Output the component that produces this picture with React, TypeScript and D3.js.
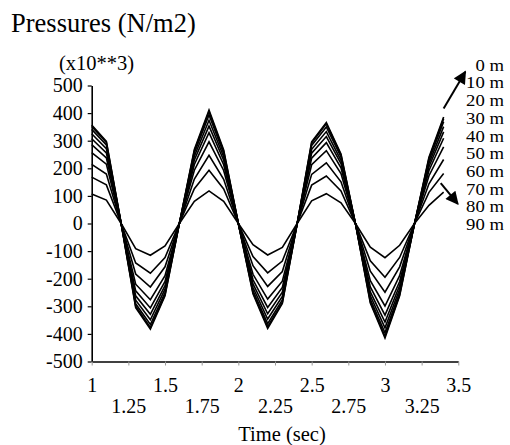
import React, { useEffect, useRef } from "react";
import * as d3 from "d3";

// time samples (sec)
const times = [1.0, 1.1, 1.2, 1.3, 1.4, 1.5, 1.6, 1.7, 1.8, 1.9, 2.0, 2.1, 2.2, 2.3, 2.4, 2.5, 2.6, 2.7, 2.8, 2.9, 3.0, 3.1, 3.2, 3.3, 3.4];

// pressures (x10**3 N/m2) per depth
const p0 = [357, 298, 2, -305, -383, -262, 6, 268, 411, 266, 0, -255, -380, -290, -4, 296, 366, 252, -4, -288, -415, -262, -4, 240, 386];
const p10 = [352, 294, 2, -300, -377, -258, 6, 264, 405, 262, 0, -251, -374, -286, -4, 292, 361, 248, -4, -284, -409, -258, -4, 236, 380];
const p20 = [341, 285, 2, -291, -366, -250, 6, 256, 393, 254, 0, -244, -363, -277, -4, 283, 350, 241, -4, -275, -396, -250, -4, 229, 369];
const p30 = [325, 271, 2, -278, -349, -238, 5, 244, 374, 242, 0, -232, -346, -264, -4, 269, 333, 229, -4, -262, -378, -238, -4, 218, 351];
const p40 = [307, 256, 2, -262, -329, -225, 5, 230, 353, 229, 0, -219, -327, -249, -3, 255, 315, 217, -3, -248, -357, -225, -3, 206, 332];
const p50 = [286, 238, 2, -244, -306, -210, 5, 214, 329, 213, 0, -204, -304, -232, -3, 237, 293, 202, -3, -230, -332, -210, -3, 192, 309];
const p60 = [257, 215, 1, -220, -276, -189, 4, 193, 296, 192, 0, -184, -274, -209, -3, 213, 264, 181, -3, -207, -299, -189, -3, 173, 278];
const p70 = [214, 179, 1, -183, -230, -157, 4, 161, 247, 160, 0, -153, -228, -174, -2, 178, 220, 151, -2, -173, -249, -157, -2, 144, 232];
const p80 = [168, 140, 1, -143, -180, -123, 3, 126, 193, 125, 0, -120, -179, -136, -2, 139, 172, 118, -2, -135, -195, -123, -2, 113, 181];
const p90 = [107, 85, 1, -91, -115, -81, 2, 80, 118, 80, 0, -77, -114, -87, -1, 82, 108, 75, -1, -86, -124, -79, -1, 66, 114];

const series = [p0, p10, p20, p30, p40, p50, p60, p70, p80, p90];
const depthLabels = ["0 m", "10 m", "20 m", "30 m", "40 m", "50 m", "60 m", "70 m", "80 m", "90 m"];

const xTicks = [1, 1.25, 1.5, 1.75, 2, 2.25, 2.5, 2.75, 3, 3.25, 3.5];
const yTicks = [-500, -400, -300, -200, -100, 0, 100, 200, 300, 400, 500];

const FONT = "'Liberation Serif', 'Times New Roman', serif";

const App = () => {
    const svgRef = useRef<SVGSVGElement>(null);

    useEffect(() => {
        const svg = d3.select(svgRef.current);
        svg.selectAll("*").remove();

        const x = d3.scaleLinear().domain([1, 3.5]).range([91.7, 458.3]);
        const y = d3.scaleLinear().domain([-500, 500]).range([361.5, 85.5]);

        // title and unit
        svg.append("text")
            .attr("x", 11).attr("y", 32)
            .style("font-family", FONT).style("font-size", "26.5px")
            .text("Pressures (N/m2)");
        svg.append("text")
            .attr("x", 59).attr("y", 70)
            .style("font-family", FONT).style("font-size", "20.5px")
            .text("(x10**3)");

        // y axis
        const yAxis = svg.append("g")
            .attr("transform", `translate(${x(1)},0)`)
            .call(d3.axisLeft(y).tickValues(yTicks).tickSize(4).tickSizeOuter(0).tickPadding(5).tickFormat(d3.format("d")));
        yAxis.select(".domain").attr("stroke", "#000").attr("stroke-width", 1.6);
        yAxis.selectAll(".tick line").attr("stroke", "#000").attr("stroke-width", 1.2);
        yAxis.selectAll(".tick text")
            .style("font-family", FONT).style("font-size", "20px").attr("fill", "#000")
            .text(d => String(d).replace("−", "-"));

        // x axis, labels alternate between two rows
        const xAxis = svg.append("g")
            .attr("transform", `translate(0,${y(-500)})`)
            .call(d3.axisBottom(x).tickValues(xTicks).tickSize(4).tickSizeOuter(0).tickFormat(d => String(d)));
        xAxis.select(".domain").attr("stroke", "#000").attr("stroke-width", 1.6);
        xAxis.selectAll(".tick line").attr("stroke", "#999").attr("stroke-width", 1);
        xAxis.selectAll(".tick text")
            .style("font-family", FONT).style("font-size", "20px").attr("fill", "#000")
            .attr("dy", null)
            .attr("y", (d, i) => (i % 2 === 0 ? 30 : 51));

        svg.append("text")
            .attr("x", 282).attr("y", 441)
            .attr("text-anchor", "middle")
            .style("font-family", FONT).style("font-size", "20.5px")
            .text("Time (sec)");

        // pressure lines
        const line = d3.line<number>()
            .x((d, i) => x(times[i]))
            .y(d => y(d));
        svg.append("g")
            .selectAll("path")
            .data(series)
            .enter()
            .append("path")
            .attr("d", d => line(d))
            .attr("fill", "none")
            .attr("stroke", "#000")
            .attr("stroke-width", 1.6)
            .attr("stroke-linejoin", "miter");

        // depth legend (tightly stacked, slightly stretched sideways like the original)
        svg.append("g")
            .selectAll("text")
            .data(depthLabels)
            .enter()
            .append("text")
            .attr("transform", (d, i) => `translate(504,${70.7 + i * 17.7}) scale(1.1,1)`)
            .attr("text-anchor", "end")
            .style("font-family", FONT).style("font-size", "17px")
            .text(d => d);

        // arrows
        svg.append("defs")
            .append("marker")
            .attr("id", "arrowHead")
            .attr("viewBox", "0 0 10 10")
            .attr("refX", 9).attr("refY", 5)
            .attr("markerWidth", 15).attr("markerHeight", 13)
            .attr("markerUnits", "userSpaceOnUse")
            .attr("orient", "auto")
            .append("path")
            .attr("d", "M0,0 L10,5 L0,10 z")
            .attr("fill", "#000");

        const arrows = [
            { t0: 3.4, v0: 417, t1: 3.548, v1: 550 },
            { t0: 3.38, v0: 146, t1: 3.497, v1: 71 },
        ];
        svg.append("g")
            .selectAll("line")
            .data(arrows)
            .enter()
            .append("line")
            .attr("x1", d => x(d.t0)).attr("y1", d => y(d.v0))
            .attr("x2", d => x(d.t1)).attr("y2", d => y(d.v1))
            .attr("stroke", "#000")
            .attr("stroke-width", 2)
            .attr("marker-end", "url(#arrowHead)");
    }, []);

    return (
        <div style={{ position: "absolute", left: 0, top: 0 }}>
            <svg ref={svgRef} width={510} height={445} style={{ display: "block", background: "#fff" }} />
        </div>
    );
};

export default App;
